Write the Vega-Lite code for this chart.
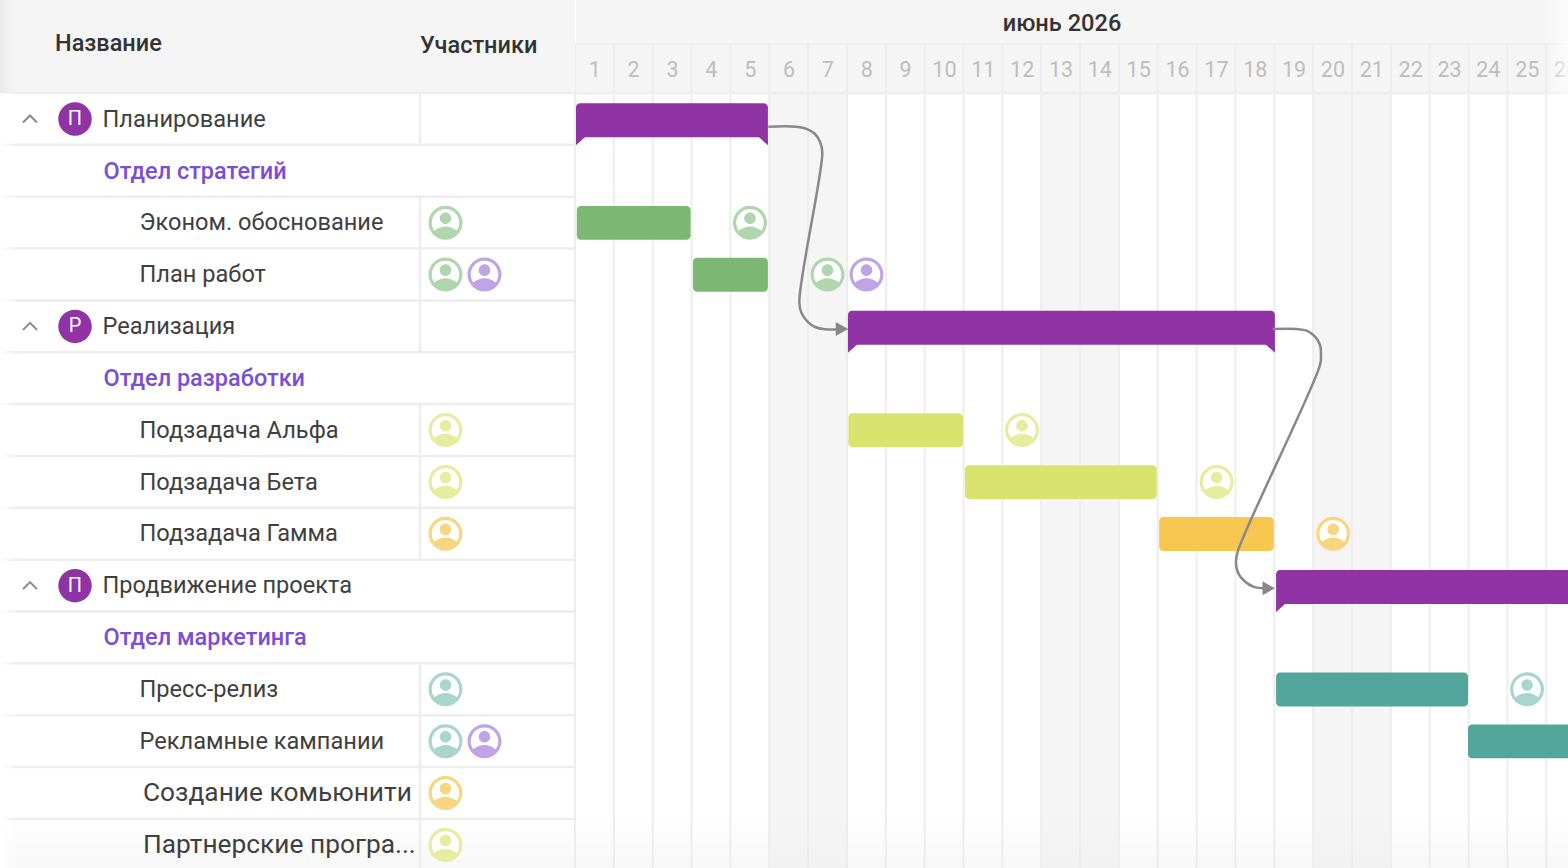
{
"$schema":"https://vega.github.io/schema/vega-lite/v6.json",
"width":1568,"height":868,"padding":0,"autosize":{"type":"none"},"background":"#ffffff",
"config":{"view":{"stroke":null},"axis":{"disable":true},"legend":{"disable":true},"font":"Roboto"},
"datasets":{
"days":[{"day":1},{"day":2},{"day":3},{"day":4},{"day":5},{"day":6},{"day":7},{"day":8},{"day":9},{"day":10},{"day":11},{"day":12},{"day":13},{"day":14},{"day":15},{"day":16},{"day":17},{"day":18},{"day":19},{"day":20},{"day":21},{"day":22},{"day":23},{"day":24},{"day":25},{"day":26}],
"weekends":[{"start":6,"end":8},{"start":13,"end":15},{"start":20,"end":22}],
"summaries":[{"row":0,"rowEnd":1,"start":1,"end":5.94,"team":"summary"},{"row":4,"rowEnd":5,"start":8,"end":18.99,"team":"summary"},{"row":9,"rowEnd":10,"start":19.02,"end":28,"team":"summary"}],
"tasks":[{"row":2,"rowEnd":3,"start":1.02,"end":3.95,"team":"green"},{"row":3,"rowEnd":4,"start":4.01,"end":5.94,"team":"green"},{"row":6,"rowEnd":7,"start":8.01,"end":10.96,"team":"lime"},{"row":7,"rowEnd":8,"start":11.01,"end":15.95,"team":"lime"},{"row":8,"rowEnd":9,"start":16.01,"end":18.96,"team":"amber"},{"row":11,"rowEnd":12,"start":19.02,"end":23.96,"team":"teal"},{"row":12,"rowEnd":13,"start":23.96,"end":28,"team":"teal"}],
"avatars":[{"row":2,"team":"p-green","slot":9,"day":5.479},{"row":3,"team":"p-green","slot":9,"day":7.474},{"row":3,"team":"p-purple","slot":10,"day":8.477},{"row":6,"team":"p-lime","slot":9,"day":12.48},{"row":7,"team":"p-lime","slot":9,"day":17.49},{"row":8,"team":"p-amber","slot":9,"day":20.49},{"row":11,"team":"p-teal","slot":9,"day":25.48},{"row":12,"team":"p-teal","slot":9,"day":28},{"row":12,"team":"p-purple","slot":10,"day":29},{"row":13,"team":"p-amber","slot":9,"day":33},{"row":14,"team":"p-lime","slot":9,"day":35}],
"links":[
{"link":1,"seq":1,"day":5.95,"row":0.65},{"link":1,"seq":2,"day":6.663,"row":0.65},{"link":1,"seq":3,"day":6.92,"row":0.687},{"link":1,"seq":4,"day":7.152,"row":0.791},{"link":1,"seq":5,"day":7.293,"row":0.964},{"link":1,"seq":6,"day":7.34,"row":1.157},{"link":1,"seq":7,"day":6.748,"row":4.025},{"link":1,"seq":8,"day":6.804,"row":4.243},{"link":1,"seq":9,"day":6.972,"row":4.417},{"link":1,"seq":10,"day":7.152,"row":4.513},{"link":1,"seq":11,"day":7.409,"row":4.557},{"link":1,"seq":12,"day":7.795,"row":4.557},
{"link":2,"seq":1,"day":18.933,"row":4.552},{"link":2,"seq":2,"day":19.551,"row":4.552},{"link":2,"seq":3,"day":19.808,"row":4.584},{"link":2,"seq":4,"day":20.022,"row":4.7},{"link":2,"seq":5,"day":20.151,"row":4.86},{"link":2,"seq":6,"day":20.176,"row":5.053},{"link":2,"seq":7,"day":20.151,"row":5.246},{"link":2,"seq":8,"day":18.032,"row":8.847},{"link":2,"seq":9,"day":17.988,"row":9.07},{"link":2,"seq":10,"day":18.032,"row":9.232},{"link":2,"seq":11,"day":18.135,"row":9.36},{"link":2,"seq":12,"day":18.434,"row":9.522},{"link":2,"seq":13,"day":18.735,"row":9.553}],
"arrows":[{"day":8.008,"row":4.552},{"day":18.992,"row":9.553}],
"labels":[
{"kind":"header","col":2,"row":-1.466,"label":"Название"},{"kind":"header","col":8,"row":-1.427,"label":"Участники"},
{"kind":"project","col":4,"row":0,"label":"Планирование"},{"kind":"group","col":5,"row":1,"label":"Отдел стратегий"},{"kind":"task","col":6,"row":2,"label":"Эконом. обоснование"},{"kind":"task","col":6,"row":3,"label":"План работ"},
{"kind":"project","col":4,"row":4,"label":"Реализация"},{"kind":"group","col":5,"row":5,"label":"Отдел разработки"},{"kind":"task","col":6,"row":6,"label":"Подзадача Альфа"},{"kind":"task","col":6,"row":7,"label":"Подзадача Бета"},{"kind":"task","col":6,"row":8,"label":"Подзадача Гамма"},
{"kind":"project","col":4,"row":9,"label":"Продвижение проекта"},{"kind":"group","col":5,"row":10,"label":"Отдел маркетинга"},{"kind":"task","col":6,"row":11,"label":"Пресс-релиз"},{"kind":"task","col":6,"row":12,"label":"Рекламные кампании"},
{"kind":"bigtask","col":7,"row":13,"label":"Создание комьюнити"},{"kind":"bigtask","col":7,"row":14,"label":"Партнерские програ..."}],
"projects":[{"row":0,"letter":"П","team":"summary"},{"row":4,"letter":"Р","team":"summary"},{"row":9,"letter":"П","team":"summary"}],
"rowlines":[{"row":0},{"row":1},{"row":2},{"row":3},{"row":4},{"row":5},{"row":6},{"row":7},{"row":8},{"row":9},{"row":10},{"row":11},{"row":12},{"row":13},{"row":14}],
"dividers":[{"row":0,"rowEnd":1},{"row":2,"rowEnd":3},{"row":3,"rowEnd":4},{"row":4,"rowEnd":5},{"row":6,"rowEnd":7},{"row":7,"rowEnd":8},{"row":8,"rowEnd":9},{"row":11,"rowEnd":12},{"row":12,"rowEnd":13},{"row":13,"rowEnd":14},{"row":14,"rowEnd":15}]
},
"resolve":{"scale":{"x":"independent"}},
"layer":[
{"layer":[
{"data":{"values":[{}]},"mark":{"type":"rect","fill":"#f5f5f5"},"encoding":{"x":{"datum":1,"scale":{"domain":[1,26.534],"range":[576,1568]}},"x2":{"datum":26.534},"y":{"datum":-1.7936,"scale":{"domain":[-1.7936,14.947],"range":[0,868]}},"y2":{"datum":0}}},
{"data":{"name":"weekends"},"mark":{"type":"rect","fill":"#f5f5f5","xOffset":-1,"x2Offset":-1},"encoding":{"x":{"field":"start","type":"quantitative","scale":{"domain":[1,26.534],"range":[576,1568]}},"x2":{"field":"end"},"y":{"datum":0,"scale":{"domain":[-1.7936,14.947],"range":[0,868]}},"y2":{"datum":14.947}}},
{"data":{"name":"days"},"mark":{"type":"rule","color":"#ededed","strokeWidth":2,"xOffset":-1},"encoding":{"x":{"field":"day","type":"quantitative","scale":{"domain":[1,26.534],"range":[576,1568]}},"y":{"datum":-0.945,"scale":{"domain":[-1.7936,14.947],"range":[0,868]}},"y2":{"datum":14.947}}},
{"data":{"values":[{}]},"mark":{"type":"rule","color":"#ededed","strokeWidth":2},"encoding":{"x":{"datum":1,"scale":{"domain":[1,26.534],"range":[576,1568]}},"x2":{"datum":26.534},"y":{"datum":-0.945,"scale":{"domain":[-1.7936,14.947],"range":[0,868]}}}},
{"data":{"values":[{}]},"mark":{"type":"rule","color":"#eeeeee","strokeWidth":3},"encoding":{"x":{"datum":1,"scale":{"domain":[1,26.534],"range":[576,1568]}},"x2":{"datum":26.534},"y":{"datum":0,"scale":{"domain":[-1.7936,14.947],"range":[0,868]}}}},
{"data":{"name":"days"},"mark":{"type":"text","color":"#bdbdbd","fontSize":21.5,"xOffset":18.8,"yOffset":1.3,"baseline":"middle","align":"center"},"encoding":{"x":{"field":"day","type":"quantitative","scale":{"domain":[1,26.534],"range":[576,1568]}},"y":{"datum":-0.453,"scale":{"domain":[-1.7936,14.947],"range":[0,868]}},"text":{"field":"day","type":"nominal"}}},
{"data":{"values":[{"month":"июнь 2026"}]},"mark":{"type":"text","color":"#333333","fontSize":23.6,"fontWeight":500,"yOffset":1,"baseline":"middle","align":"center"},"encoding":{"x":{"datum":13.51,"scale":{"domain":[1,26.534],"range":[576,1568]}},"y":{"datum":-1.35,"scale":{"domain":[-1.7936,14.947],"range":[0,868]}},"text":{"field":"month"}}},
{"data":{"values":[{}]},"mark":{"type":"rect","fill":{"gradient":"linear","x1":0,"y1":0,"x2":1,"y2":0,"stops":[{"offset":0,"color":"rgba(255,255,255,0)"},{"offset":1,"color":"rgba(255,255,255,0.7)"}]}},"encoding":{"x":{"datum":25.94,"scale":{"domain":[1,26.534],"range":[576,1568]}},"x2":{"datum":26.534},"y":{"datum":-1.7936,"scale":{"domain":[-1.7936,14.947],"range":[0,868]}},"y2":{"datum":14.947}}},
{"data":{"values":[{}]},"mark":{"type":"rect","fill":{"gradient":"linear","x1":0,"y1":0,"x2":0,"y2":1,"stops":[{"offset":0,"color":"rgba(236,236,236,0)"},{"offset":1,"color":"rgba(236,236,236,0.4)"}]}},"encoding":{"x":{"datum":1,"scale":{"domain":[1,26.534],"range":[576,1568]}},"x2":{"datum":26.534},"y":{"datum":13.9,"scale":{"domain":[-1.7936,14.947],"range":[0,868]}},"y2":{"datum":14.947}}},
{"data":{"name":"summaries"},"mark":{"type":"rect","cornerRadiusTopLeft":4,"cornerRadiusTopRight":4,"yOffset":10.3,"y2Offset":-7.5},"encoding":{"x":{"field":"start","type":"quantitative","scale":{"domain":[1,26.534],"range":[576,1568]}},"x2":{"field":"end"},"y":{"field":"row","type":"quantitative","scale":{"domain":[-1.7936,14.947],"range":[0,868]}},"y2":{"field":"rowEnd"},"color":{"field":"team","type":"nominal","scale":{"domain":["summary","green","lime","amber","teal","p-green","p-lime","p-amber","p-teal","p-purple"],"range":["#9033a5","#7cb873","#d9e46f","#f7c752","#52a69b","#b0d6ae","#e6ed9f","#f8d57f","#a9d5cf","#c0a5e6"]}}}},
{"data":{"name":"summaries"},"mark":{"type":"point","filled":true,"opacity":1,"size":100,"shape":"M0,-0.2L2,-0.2L0,1.6Z","yOffset":-7.5},"encoding":{"x":{"field":"start","type":"quantitative","scale":{"domain":[1,26.534],"range":[576,1568]}},"y":{"field":"rowEnd","type":"quantitative","scale":{"domain":[-1.7936,14.947],"range":[0,868]}},"color":{"field":"team","type":"nominal"}}},
{"data":{"name":"summaries"},"mark":{"type":"point","filled":true,"opacity":1,"size":100,"shape":"M0,-0.2L-2,-0.2L0,1.6Z","yOffset":-7.5},"encoding":{"x":{"field":"end","type":"quantitative","scale":{"domain":[1,26.534],"range":[576,1568]}},"y":{"field":"rowEnd","type":"quantitative","scale":{"domain":[-1.7936,14.947],"range":[0,868]}},"color":{"field":"team","type":"nominal"}}},
{"data":{"name":"tasks"},"mark":{"type":"rect","cornerRadius":4,"yOffset":9.2,"y2Offset":-8.7},"encoding":{"x":{"field":"start","type":"quantitative","scale":{"domain":[1,26.534],"range":[576,1568]}},"x2":{"field":"end"},"y":{"field":"row","type":"quantitative","scale":{"domain":[-1.7936,14.947],"range":[0,868]}},"y2":{"field":"rowEnd"},"color":{"field":"team","type":"nominal"}}},
{"data":{"name":"avatars"},"mark":{"type":"point","filled":true,"opacity":1,"size":1156,"shape":"circle","color":"#ffffff","yOffset":26},"encoding":{"x":{"field":"day","type":"quantitative","scale":{"domain":[1,26.534],"range":[576,1568]}},"y":{"field":"row","type":"quantitative","scale":{"domain":[-1.7936,14.947],"range":[0,868]}}}},
{"data":{"name":"avatars"},"mark":{"type":"point","filled":true,"opacity":1,"size":1156,"yOffset":26,"shape":"M-1,0A1,1 0 1 1 1,0A1,1 0 1 1 -1,0ZM-0.81,0A0.81,0.81 0 1 0 0.81,0A0.81,0.81 0 1 0 -0.81,0ZM-0.34,-0.26A0.34,0.34 0 1 1 0.34,-0.26A0.34,0.34 0 1 1 -0.34,-0.26ZM-0.72,0.5Q0,-0.06 0.72,0.5A0.88,0.88 0 0 1 -0.72,0.5Z"},"encoding":{"x":{"field":"day","type":"quantitative","scale":{"domain":[1,26.534],"range":[576,1568]}},"y":{"field":"row","type":"quantitative","scale":{"domain":[-1.7936,14.947],"range":[0,868]}},"color":{"field":"team","type":"nominal"}}},
{"data":{"name":"links"},"mark":{"type":"line","color":"#888888","strokeWidth":2.5,"interpolate":"catmull-rom"},"encoding":{"x":{"field":"day","type":"quantitative","scale":{"domain":[1,26.534],"range":[576,1568]}},"y":{"field":"row","type":"quantitative","scale":{"domain":[-1.7936,14.947],"range":[0,868]}},"detail":{"field":"link"},"order":{"field":"seq","type":"quantitative"}}},
{"data":{"name":"arrows"},"mark":{"type":"point","filled":true,"opacity":1,"color":"#888888","size":100,"shape":"M0,0L-2.5,-1.4L-2.5,1.4Z"},"encoding":{"x":{"field":"day","type":"quantitative","scale":{"domain":[1,26.534],"range":[576,1568]}},"y":{"field":"row","type":"quantitative","scale":{"domain":[-1.7936,14.947],"range":[0,868]}}}}
]},
{"layer":[
{"data":{"values":[{}]},"mark":{"type":"rect","fill":"#f5f5f5"},"encoding":{"x":{"datum":0,"scale":{"domain":[0,1,2,3,4,5,6,7,8,9,10,11],"range":[0,30,55,75,102.5,103.5,139.5,143,420,445.5,484.5,575]}},"x2":{"datum":11},"y":{"datum":-1.7936,"scale":{"domain":[-1.7936,14.947],"range":[0,868]}},"y2":{"datum":0}}},
{"data":{"name":"rowlines"},"mark":{"type":"rule","color":"#eeeeee","strokeWidth":2.5},"encoding":{"x":{"datum":0,"scale":{"domain":[0,1,2,3,4,5,6,7,8,9,10,11],"range":[0,30,55,75,102.5,103.5,139.5,143,420,445.5,484.5,575]}},"x2":{"datum":11},"y":{"field":"row","type":"quantitative","scale":{"domain":[-1.7936,14.947],"range":[0,868]}}}},
{"data":{"name":"dividers"},"mark":{"type":"rule","color":"#eeeeee","strokeWidth":2.5},"encoding":{"x":{"datum":8,"scale":{"domain":[0,1,2,3,4,5,6,7,8,9,10,11],"range":[0,30,55,75,102.5,103.5,139.5,143,420,445.5,484.5,575]}},"y":{"field":"row","type":"quantitative","scale":{"domain":[-1.7936,14.947],"range":[0,868]}},"y2":{"field":"rowEnd"}}},
{"data":{"values":[{}]},"mark":{"type":"rect","fill":{"gradient":"linear","x1":0,"y1":0,"x2":0,"y2":1,"stops":[{"offset":0,"color":"rgba(236,236,236,0)"},{"offset":1,"color":"rgba(236,236,236,0.4)"}]}},"encoding":{"x":{"datum":0,"scale":{"domain":[0,1,2,3,4,5,6,7,8,9,10,11],"range":[0,30,55,75,102.5,103.5,139.5,143,420,445.5,484.5,575]}},"x2":{"datum":11},"y":{"datum":13.9,"scale":{"domain":[-1.7936,14.947],"range":[0,868]}},"y2":{"datum":14.947}}},
{"data":{"name":"labels"},"transform":[{"filter":"datum.kind==='header'"}],"mark":{"type":"text","align":"left","baseline":"middle","fontSize":23.5,"fontWeight":500,"color":"#333333","yOffset":27.3},"encoding":{"x":{"field":"col","type":"quantitative","scale":{"domain":[0,1,2,3,4,5,6,7,8,9,10,11],"range":[0,30,55,75,102.5,103.5,139.5,143,420,445.5,484.5,575]}},"y":{"field":"row","type":"quantitative","scale":{"domain":[-1.7936,14.947],"range":[0,868]}},"text":{"field":"label"}}},
{"data":{"name":"labels"},"transform":[{"filter":"datum.kind==='group'"}],"mark":{"type":"text","align":"left","baseline":"middle","fontSize":23.5,"fontWeight":500,"color":"#7a4fd6","yOffset":27},"encoding":{"x":{"field":"col","type":"quantitative","scale":{"domain":[0,1,2,3,4,5,6,7,8,9,10,11],"range":[0,30,55,75,102.5,103.5,139.5,143,420,445.5,484.5,575]}},"y":{"field":"row","type":"quantitative","scale":{"domain":[-1.7936,14.947],"range":[0,868]}},"text":{"field":"label"}}},
{"data":{"name":"labels"},"transform":[{"filter":"datum.kind==='project'||datum.kind==='task'"}],"mark":{"type":"text","align":"left","baseline":"middle","fontSize":23.6,"color":"#3f3f3f","yOffset":26.6},"encoding":{"x":{"field":"col","type":"quantitative","scale":{"domain":[0,1,2,3,4,5,6,7,8,9,10,11],"range":[0,30,55,75,102.5,103.5,139.5,143,420,445.5,484.5,575]}},"y":{"field":"row","type":"quantitative","scale":{"domain":[-1.7936,14.947],"range":[0,868]}},"text":{"field":"label"}}},
{"data":{"name":"labels"},"transform":[{"filter":"datum.kind==='bigtask'"}],"mark":{"type":"text","align":"left","baseline":"middle","fontSize":26.3,"color":"#3f3f3f","yOffset":26},"encoding":{"x":{"field":"col","type":"quantitative","scale":{"domain":[0,1,2,3,4,5,6,7,8,9,10,11],"range":[0,30,55,75,102.5,103.5,139.5,143,420,445.5,484.5,575]}},"y":{"field":"row","type":"quantitative","scale":{"domain":[-1.7936,14.947],"range":[0,868]}},"text":{"field":"label"}}},
{"data":{"name":"projects"},"mark":{"type":"point","filled":true,"opacity":1,"size":1120,"shape":"circle","yOffset":26},"encoding":{"x":{"datum":3,"scale":{"domain":[0,1,2,3,4,5,6,7,8,9,10,11],"range":[0,30,55,75,102.5,103.5,139.5,143,420,445.5,484.5,575]}},"y":{"field":"row","type":"quantitative","scale":{"domain":[-1.7936,14.947],"range":[0,868]}},"color":{"field":"team","type":"nominal"}}},
{"data":{"name":"projects"},"mark":{"type":"text","color":"#ffffff","fontSize":20,"align":"center","baseline":"middle","yOffset":26},"encoding":{"x":{"datum":3,"scale":{"domain":[0,1,2,3,4,5,6,7,8,9,10,11],"range":[0,30,55,75,102.5,103.5,139.5,143,420,445.5,484.5,575]}},"y":{"field":"row","type":"quantitative","scale":{"domain":[-1.7936,14.947],"range":[0,868]}},"text":{"field":"letter"}}},
{"data":{"name":"projects"},"mark":{"type":"point","filled":false,"opacity":1,"color":"#888888","strokeWidth":2,"size":196,"shape":"M-1,0.5L0,-0.5L1,0.5","yOffset":26},"encoding":{"x":{"datum":1,"scale":{"domain":[0,1,2,3,4,5,6,7,8,9,10,11],"range":[0,30,55,75,102.5,103.5,139.5,143,420,445.5,484.5,575]}},"y":{"field":"row","type":"quantitative","scale":{"domain":[-1.7936,14.947],"range":[0,868]}}}},
{"data":{"name":"avatars"},"mark":{"type":"point","filled":true,"opacity":1,"size":1156,"shape":"circle","color":"#ffffff","yOffset":26},"encoding":{"x":{"field":"slot","type":"quantitative","scale":{"domain":[0,1,2,3,4,5,6,7,8,9,10,11],"range":[0,30,55,75,102.5,103.5,139.5,143,420,445.5,484.5,575]}},"y":{"field":"row","type":"quantitative","scale":{"domain":[-1.7936,14.947],"range":[0,868]}}}},
{"data":{"name":"avatars"},"mark":{"type":"point","filled":true,"opacity":1,"size":1156,"yOffset":26,"shape":"M-1,0A1,1 0 1 1 1,0A1,1 0 1 1 -1,0ZM-0.81,0A0.81,0.81 0 1 0 0.81,0A0.81,0.81 0 1 0 -0.81,0ZM-0.34,-0.26A0.34,0.34 0 1 1 0.34,-0.26A0.34,0.34 0 1 1 -0.34,-0.26ZM-0.72,0.5Q0,-0.06 0.72,0.5A0.88,0.88 0 0 1 -0.72,0.5Z"},"encoding":{"x":{"field":"slot","type":"quantitative","scale":{"domain":[0,1,2,3,4,5,6,7,8,9,10,11],"range":[0,30,55,75,102.5,103.5,139.5,143,420,445.5,484.5,575]}},"y":{"field":"row","type":"quantitative","scale":{"domain":[-1.7936,14.947],"range":[0,868]}},"color":{"field":"team","type":"nominal"}}},
{"data":{"values":[{}]},"mark":{"type":"rect","fill":{"gradient":"linear","x1":0,"y1":0,"x2":1,"y2":0,"stops":[{"offset":0,"color":"rgba(232,232,232,0.8)"},{"offset":1,"color":"rgba(245,245,245,0)"}]}},"encoding":{"x":{"datum":0,"scale":{"domain":[0,1,2,3,4,5,6,7,8,9,10,11],"range":[0,30,55,75,102.5,103.5,139.5,143,420,445.5,484.5,575]}},"x2":{"datum":0.8},"y":{"datum":-1.7936,"scale":{"domain":[-1.7936,14.947],"range":[0,868]}},"y2":{"datum":0}}},
{"data":{"values":[{}]},"mark":{"type":"rect","fill":{"gradient":"linear","x1":0,"y1":0,"x2":1,"y2":0,"stops":[{"offset":0,"color":"rgba(255,255,255,0.95)"},{"offset":1,"color":"rgba(255,255,255,0)"}]}},"encoding":{"x":{"datum":0,"scale":{"domain":[0,1,2,3,4,5,6,7,8,9,10,11],"range":[0,30,55,75,102.5,103.5,139.5,143,420,445.5,484.5,575]}},"x2":{"datum":0.6},"y":{"datum":0,"scale":{"domain":[-1.7936,14.947],"range":[0,868]}},"y2":{"datum":14.947}}}
]}
]
}
